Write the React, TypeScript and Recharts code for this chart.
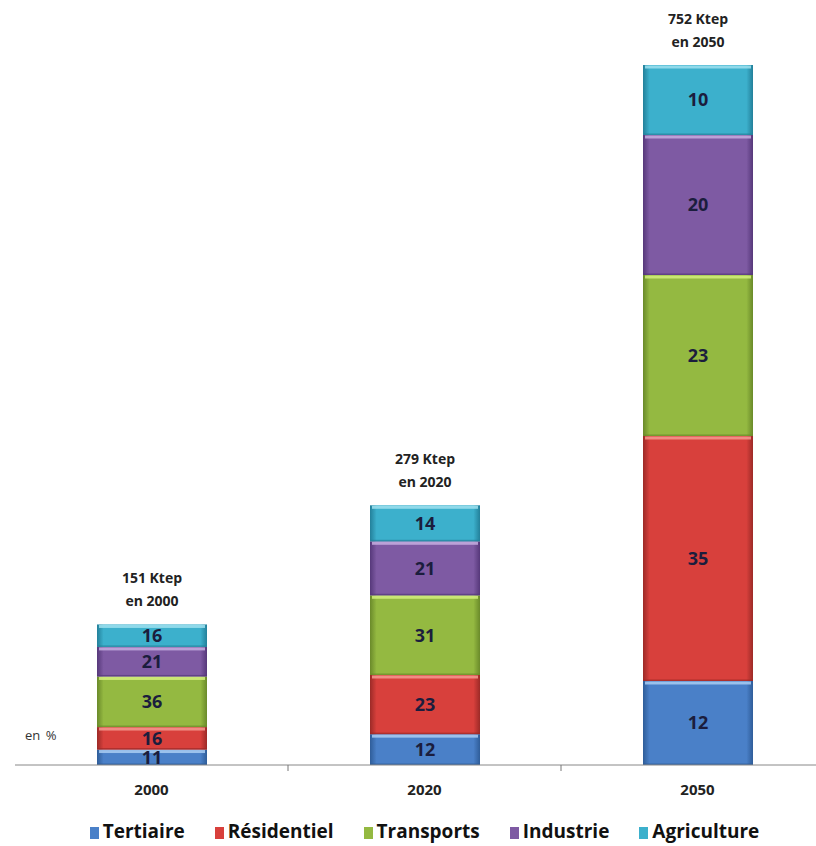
import React from 'react'
import { BarChart, Bar, XAxis, YAxis, Legend, LabelList } from 'recharts'

const years = ['2000', '2020', '2050']
const totals = [151, 279, 752]
const tertiaire = [11, 12, 12]
const residentiel = [16, 23, 35]
const transports = [36, 31, 23]
const industrie = [21, 21, 20]
const agriculture = [16, 14, 10]

const SERIES = [
  { key: 'tertiaire', label: 'Tertiaire', values: tertiaire, color: '#4a80c8', light: '#a9ccf2', dark: '#2f5d99' },
  { key: 'residentiel', label: 'Résidentiel', values: residentiel, color: '#d8403c', light: '#f59a90', dark: '#9c2a27' },
  { key: 'transports', label: 'Transports', values: transports, color: '#94b941', light: '#d4ee7e', dark: '#6a8a2a' },
  { key: 'industrie', label: 'Industrie', values: industrie, color: '#7e5aa3', light: '#c6aee0', dark: '#56387a' },
  { key: 'agriculture', label: 'Agriculture', values: agriculture, color: '#3cb0cc', light: '#9fe0ef', dark: '#23809a' },
]

const CHART_W = 840
const CHART_H = 846
const MARGIN = { top: 65, right: 6, left: 15, bottom: 0 }
const BAND_HALF = (CHART_W - MARGIN.left - MARGIN.right) / years.length / 2
const FONT = '"Open Sans", "Noto Sans", sans-serif'

// bar heights follow the total Ktep, split by the shares of each year
const data = years.map((year, i) => {
  const sum = SERIES.reduce((s, ser) => s + ser.values[i], 0)
  const row: Record<string, any> = { year, total: totals[i] }
  SERIES.forEach(ser => {
    row[ser.key] = ser.values[i]
    row[ser.key + '_v'] = (totals[i] * ser.values[i]) / sum
  })
  return row
})

const makeShape = (ser: typeof SERIES[number]) => (props: any) => {
  const { x, y, width, height } = props
  if (!height || height <= 0) return <g />
  return (
    <g>
      <rect x={x} y={y} width={width} height={height} fill={`url(#grad-${ser.key})`} />
      <rect x={x + 2} y={y + 0.5} width={width - 4} height={Math.min(3, height)} fill={ser.light} opacity={0.85} />
      <rect x={x} y={y + height - 1.5} width={width} height={1.5} fill={ser.dark} opacity={0.7} />
    </g>
  )
}

const CategoryTick = (props: any) => {
  const { x, y, payload, index } = props
  return (
    <g>
      {index > 0 && <line x1={x - BAND_HALF} x2={x - BAND_HALF} y1={y} y2={y + 6} stroke="#777" strokeWidth={1} />}
      <text x={x} y={y + 30} textAnchor="middle" fontFamily={FONT} fontWeight={700} fontSize={15} fill="#222">
        {payload.value}
      </text>
    </g>
  )
}

const TotalLabel = (props: any) => {
  const { x, y, width, index } = props
  const cx = x + width / 2
  return (
    <g>
      <text x={cx} y={y - 41} textAnchor="middle" fontFamily={FONT} fontWeight={700} fontSize={14} fill="#222">
        {`${totals[index]} Ktep`}
      </text>
      <text x={cx} y={y - 18} textAnchor="middle" fontFamily={FONT} fontWeight={700} fontSize={14} fill="#222">
        {`en ${years[index]}`}
      </text>
    </g>
  )
}

const renderLegend = () => (
  <div style={{ display: 'flex', justifyContent: 'center', gap: 30, height: 51, paddingTop: 20, boxSizing: 'border-box' }}>
    {SERIES.map(ser => (
      <div key={ser.key} style={{ display: 'flex', alignItems: 'center', fontFamily: FONT, fontWeight: 700, fontSize: 19, color: '#111', lineHeight: '22px' }}>
        <span style={{ width: 9, height: 12, background: ser.color, display: 'inline-block', marginRight: 4, marginTop: 4 }} />
        {ser.label}
      </div>
    ))}
  </div>
)

export default function App() {
  return (
    <div style={{ position: 'fixed', left: 0, top: 0, width: 816, height: 846, overflow: 'hidden', background: '#fff' }}>
      <BarChart width={CHART_W} height={CHART_H} data={data} margin={MARGIN} barSize={110}>
        <defs>
          {SERIES.map(ser => (
            <linearGradient key={ser.key} id={`grad-${ser.key}`} x1="0" y1="0" x2="1" y2="0">
              <stop offset="0%" stopColor={ser.dark} />
              <stop offset="6%" stopColor={ser.color} />
              <stop offset="94%" stopColor={ser.color} />
              <stop offset="100%" stopColor={ser.dark} />
            </linearGradient>
          ))}
        </defs>
        <XAxis dataKey="year" height={30} axisLine={{ stroke: '#888' }} tickLine={false} tickSize={0} tickMargin={0} tick={<CategoryTick />} interval={0} />
        <YAxis hide domain={[0, 752]} />
        <Legend verticalAlign="bottom" content={renderLegend} wrapperStyle={{ height: 51 }} />
        {SERIES.map((ser, si) => (
          <Bar key={ser.key} dataKey={ser.key + '_v'} name={ser.label} stackId="a" fill={ser.color} shape={makeShape(ser)} isAnimationActive={false}>
            <LabelList dataKey={ser.key} position="center" fontFamily={FONT} fontWeight={700} fontSize={18} fill="#1b1d3d" />
            {si === SERIES.length - 1 && <LabelList dataKey="total" content={<TotalLabel />} />}
          </Bar>
        ))}
      </BarChart>
      <div style={{ position: 'absolute', left: 25, top: 726, fontFamily: FONT, fontSize: 13, color: '#333', wordSpacing: 2 }}>en %</div>
    </div>
  )
}
